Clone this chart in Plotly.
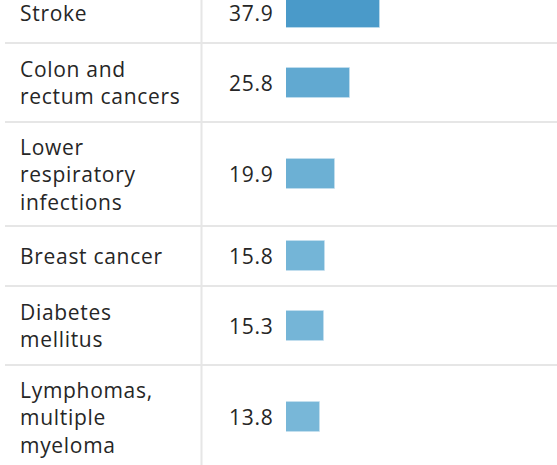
import plotly.graph_objects as go

# Data
categories = [
    "Stroke",
    "Colon and<br>rectum cancers",
    "Lower<br>respiratory<br>infections",
    "Breast cancer",
    "Diabetes<br>mellitus",
    "Lymphomas,<br>multiple<br>myeloma",
]
values = [37.9, 25.8, 19.9, 15.8, 15.3, 13.8]
value_labels = ["37.9", "25.8", "19.9", "15.8", "15.3", "13.8"]

# Layout styling (pixel-like row heights by number of text lines)
W, H = 557, 465
row_height_by_lines = {1: 60, 2: 79, 3: 104}
first_row_top = -17

tops, centers, bottoms = [], [], []
cur = first_row_top
for c in categories:
    n = c.count("<br>") + 1
    h = row_height_by_lines[n]
    tops.append(cur)
    centers.append(cur + h / 2)
    cur += h
    bottoms.append(cur)

font_family = "Open Sans, Noto Sans, sans-serif"
text_color = "#262626"
grid_color = "#e6e6e6"
spacing_style = "letter-spacing:0.7px"


def spaced(txt):
    return "<br>".join(
        f"<span style='{spacing_style}'>{line}</span>" for line in txt.split("<br>")
    )


fig = go.Figure()
fig.add_trace(go.Bar(
    x=values,
    y=centers,
    orientation="h",
    width=30,
    marker=dict(
        color=values,
        colorscale=[[0, "rgb(120,183,216)"], [1, "rgb(74,154,201)"]],
        cmin=min(values),
        cmax=max(values),
        line=dict(width=1, color="rgba(200,225,240,0.6)"),
    ),
    hoverinfo="skip",
    showlegend=False,
))

annotations = []
for c, v, yc in zip(categories, value_labels, centers):
    annotations.append(dict(
        x=19 / W, xref="paper", y=yc, yref="y",
        text=spaced(c), showarrow=False, xanchor="left", yanchor="middle",
        align="left", borderpad=0,
        font=dict(family=font_family, size=21, color=text_color),
    ))
    annotations.append(dict(
        x=274 / W, xref="paper", y=yc, yref="y",
        text=spaced(v), showarrow=False, xanchor="right", yanchor="middle",
        align="right", borderpad=0,
        font=dict(family=font_family, size=21, color=text_color),
    ))

shapes = []
for b in bottoms[:-1]:
    shapes.append(dict(
        type="line", xref="paper", yref="y",
        x0=5 / W, x1=1, y0=b, y1=b,
        line=dict(color=grid_color, width=2), layer="below",
    ))
shapes.append(dict(
    type="line", xref="paper", yref="paper",
    x0=201.5 / W, x1=201.5 / W, y0=0, y1=1,
    line=dict(color=grid_color, width=2), layer="below",
))

px_per_unit = 2.48
fig.update_layout(
    width=W, height=H,
    margin=dict(l=0, r=0, t=0, b=0),
    paper_bgcolor="white", plot_bgcolor="white",
    xaxis=dict(domain=[286 / W, 1], range=[0, (W - 286) / px_per_unit],
               visible=False, fixedrange=True),
    yaxis=dict(domain=[0, 1], range=[H, 0], visible=False, fixedrange=True),
    annotations=annotations,
    shapes=shapes,
    bargap=0,
)

fig.write_html(
    "out.html",
    config={"displayModeBar": False},
    post_script="document.body.style.margin='0px';document.body.style.overflow='hidden';",
)
